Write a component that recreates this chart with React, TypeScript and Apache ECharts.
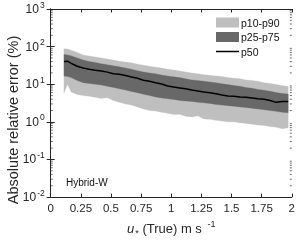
import React, { useEffect, useRef } from 'react';
import * as echarts from 'echarts';

const uStar = [0.11, 0.14, 0.17, 0.22, 0.27, 0.32, 0.37, 0.42, 0.47, 0.52, 0.57, 0.62, 0.67, 0.72, 0.77, 0.82, 0.87, 0.92, 0.97, 1.02, 1.07, 1.12, 1.17, 1.22, 1.27, 1.32, 1.37, 1.42, 1.47, 1.52, 1.57, 1.62, 1.67, 1.72, 1.77, 1.82, 1.87, 1.92, 1.97];
const p10 = [5.9, 9.8, 6.2, 5.3, 5.0, 4.8, 4.5, 4.2, 4.4, 3.7, 3.3, 3.0, 2.8, 2.5, 2.2, 2.0, 1.95, 1.8, 1.7, 1.58, 1.6, 1.4, 1.35, 1.45, 1.2, 1.17, 1.1, 1.05, 1.0, 1.0, 0.95, 0.9, 0.87, 0.82, 0.8, 0.75, 0.72, 0.66, 0.7];
const p25 = [16.5, 16, 15, 12.5, 11, 10.5, 10, 9.5, 8.8, 8.2, 7.6, 7, 6.4, 5.9, 5.4, 5, 4.6, 4.3, 4.1, 3.9, 3.7, 3.6, 3.5, 3.3, 3.2, 3.1, 2.9, 2.8, 2.7, 2.6, 2.5, 2.4, 2.3, 2.2, 2.1, 2.0, 1.9, 1.8, 1.75];
const p50 = [40, 41, 36, 30, 27, 25, 23.5, 22.5, 21, 19, 18.5, 17, 15.5, 14.5, 12.8, 12, 11, 10.2, 9, 8.4, 8, 7.6, 7, 6.6, 6.2, 5.9, 5.6, 5.2, 4.9, 4.8, 4.6, 4.5, 4.3, 4.1, 4.0, 3.7, 3.3, 3.5, 3.5];
const p75 = [62, 60, 57, 50, 44, 40, 38, 35, 33, 31, 29, 27, 25, 23, 21, 20, 19, 17.5, 16.5, 15.9, 15, 14, 13, 12.5, 12, 11.5, 11, 10.3, 9.8, 9.2, 8.8, 8.2, 7.8, 7.3, 6.9, 6.5, 6.0, 5.7, 5.5];
const p90 = [88, 86, 80, 70, 60, 56, 53, 50, 47, 44, 41, 39, 37, 34, 32, 30, 28.5, 27, 25, 23.8, 22.5, 21, 20, 19, 18, 17.3, 16.5, 16, 15, 14.5, 14, 13, 12.5, 12, 11, 10.5, 9.8, 9.2, 8.7];
const legendNames = ['p10-p90', 'p25-p75', 'p50'];
const panelLabel = 'Hybrid-W';
const yTitle = 'Absolute relative error (%)';

const FONT = "'Liberation Sans', Arial, Helvetica, sans-serif";
const AX = '#262626';
const LIGHT = '#bfbfbf';
const DARK = '#686868';

const minorTickValues: number[] = [];
for (let e = -2; e <= 2; e++) {
  for (let m = 2; m <= 9; m++) minorTickValues.push(m * Math.pow(10, e));
}

function bandSeries(name: string, lo: number[], hi: number[], color: string, z: number) {
  return {
    type: 'custom',
    name,
    coordinateSystem: 'cartesian2d',
    xAxisIndex: 0,
    yAxisIndex: 0,
    silent: true,
    z,
    itemStyle: { color },
    data: uStar.map((x, i) => [x, lo[i], hi[i]]),
    encode: { x: 0, y: [1, 2] },
    renderItem: (params: any, api: any) => {
      if (params.dataIndex !== 0) return null;
      const upper = uStar.map((x, i) => api.coord([x, hi[i]]));
      const lower = uStar.map((x, i) => api.coord([x, lo[i]])).reverse();
      return {
        type: 'polygon',
        shape: { points: upper.concat(lower) },
        style: { fill: color, stroke: color, lineWidth: 0.3 },
      };
    },
  };
}

export default function App() {
  const ref = useRef<HTMLDivElement>(null);
  useEffect(() => {
    const chart = echarts.init(ref.current!, null, { renderer: 'svg' });
    const yLabelRich = {
      b: { fontSize: 12, fontFamily: FONT, color: AX, lineHeight: 12, verticalAlign: 'bottom', padding: [0, 1, 0, 0] },
      s: { fontSize: 8.5, fontFamily: FONT, color: AX, lineHeight: 10, verticalAlign: 'bottom', padding: [0, 0, 6, 0] },
    };
    const common = {
      axisLine: { show: true, lineStyle: { color: AX, width: 1 } },
      splitLine: { show: false },
    };
    chart.setOption({
      animation: false,
      grid: { left: 50.7, right: 4, top: 8, bottom: 43, containLabel: false },
      legend: {
        left: 216,
        top: 17,
        orient: 'vertical',
        itemWidth: 23,
        itemHeight: 10,
        itemGap: 3.5,
        padding: 0,
        selectedMode: false,
        textStyle: { fontSize: 10.5, fontFamily: FONT, color: '#111', padding: [0, 0, 0, -3] },
        data: [
          { name: legendNames[0], icon: 'rect' },
          { name: legendNames[1], icon: 'rect' },
          { name: legendNames[2], icon: 'path://M0,0L46,0L46,3L0,3Z' },
        ],
      },
      xAxis: [
        {
          type: 'value',
          min: 0,
          max: 2,
          interval: 0.25,
          position: 'bottom',
          ...common,
          axisTick: { show: true, inside: true, length: 3.5, lineStyle: { color: AX } },
          axisLabel: { fontSize: 11.5, fontFamily: FONT, color: AX, margin: 5 },
          name: '{i|u}{sub|*} (True) m s {sup|-1}',
          nameLocation: 'middle',
          nameGap: 24,
          nameTextStyle: {
            rich: {
              i: { fontSize: 13, fontStyle: 'italic', fontFamily: FONT, color: AX, lineHeight: 14, verticalAlign: 'bottom', padding: [0, 1, 0, 0] },
              sub: { fontSize: 9, fontFamily: FONT, color: AX, lineHeight: 10, verticalAlign: 'bottom', padding: [0, 0, -2, 0] },
              sup: { fontSize: 9, fontFamily: FONT, color: AX, lineHeight: 10, verticalAlign: 'bottom', padding: [0, 0, 7, 2] },
            },
            fontSize: 13,
            fontFamily: FONT,
            color: AX,
            lineHeight: 14,
            verticalAlign: 'bottom',
          },
        },
        {
          type: 'value',
          min: 0,
          max: 2,
          interval: 0.25,
          position: 'top',
          ...common,
          axisTick: { show: true, inside: true, length: 3.5, lineStyle: { color: AX } },
          axisLabel: { show: false },
        },
      ],
      yAxis: [
        {
          type: 'log',
          logBase: 10,
          min: 0.01,
          max: 1000,
          position: 'left',
          ...common,
          axisTick: { show: true, inside: true, length: 4, lineStyle: { color: AX } },
          axisLabel: {
            margin: 6,
            formatter: (v: number) => `{b|10}{s|${Math.round(Math.log10(v))}}`,
            rich: yLabelRich,
          },
        },
        {
          type: 'log',
          logBase: 10,
          min: 0.01,
          max: 1000,
          position: 'right',
          ...common,
          axisTick: { show: true, inside: true, length: 4, lineStyle: { color: AX } },
          axisLabel: { show: false },
        },
      ],
      graphic: [
        {
          type: 'text',
          x: 13,
          y: 120,
          rotation: Math.PI / 2,
          style: { text: yTitle, fontSize: 14.5, fontFamily: FONT, fill: AX, align: 'center', verticalAlign: 'middle' },
        },
        {
          type: 'text',
          x: 66,
          y: 182,
          style: { text: panelLabel, fontSize: 10, fontFamily: FONT, fill: '#111', align: 'left', verticalAlign: 'middle' },
        },
      ],
      series: [
        bandSeries(legendNames[0], p10, p90, LIGHT, 1),
        bandSeries(legendNames[1], p25, p75, DARK, 2),
        {
          type: 'line',
          name: legendNames[2],
          data: uStar.map((x, i) => [x, p50[i]]),
          symbol: 'none',
          showSymbol: false,
          z: 3,
          lineStyle: { color: '#000', width: 1.5 },
          itemStyle: { color: '#000' },
        },
        {
          type: 'custom',
          name: 'minorTicks',
          silent: true,
          z: 4,
          data: minorTickValues.map((v) => [0, v]),
          encode: { x: 0, y: 1 },
          renderItem: (params: any, api: any) => {
            const v = api.value(1);
            const pl = api.coord([0, v]);
            const pr = api.coord([2, v]);
            return {
              type: 'group',
              children: [
                { type: 'line', shape: { x1: pl[0], y1: pl[1], x2: pl[0] + 2, y2: pl[1] }, style: { stroke: AX, lineWidth: 0.7 } },
                { type: 'line', shape: { x1: pr[0], y1: pr[1], x2: pr[0] - 2, y2: pr[1] }, style: { stroke: AX, lineWidth: 0.7 } },
              ],
            };
          },
        },
      ],
    });
    return () => chart.dispose();
  }, []);
  return <div ref={ref} style={{ position: 'fixed', left: 0, top: 0, width: 298, height: 242 }} />;
}
